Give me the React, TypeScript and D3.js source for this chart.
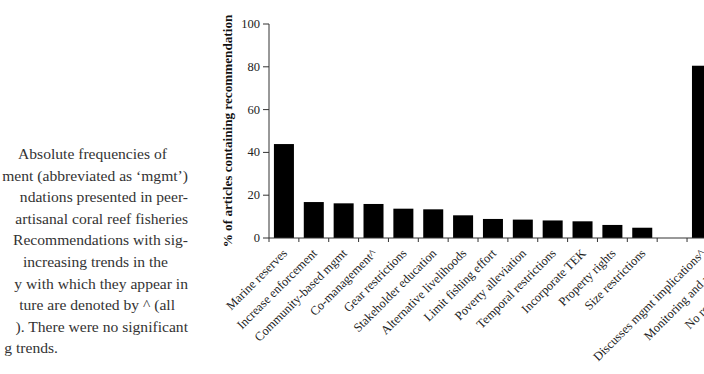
import React from 'react';
import * as d3 from 'd3';

// recommendation categories ("" = empty gap column in the original figure)
const categories = [
  'Marine reserves',
  'Increase enforcement',
  'Community-based mgmt',
  'Co-management^',
  'Gear restrictions',
  'Stakeholder education',
  'Alternative livelihoods',
  'Limit fishing effort',
  'Poverty alleviation',
  'Temporal restrictions',
  'Incorporate TEK',
  'Property rights',
  'Size restrictions',
  '',
  'Discusses mgmt implications^',
  'Monitoring and research',
  'No recommendations',
];

// % of articles containing recommendation
const values: (number | null)[] = [
  43.9, 16.8, 16.2, 15.9, 13.7, 13.4, 10.6, 8.9, 8.6, 8.2, 7.8, 6.1, 4.8,
  null, 80.5, 30, 6,
];

const yTicks = [0, 20, 40, 60, 80, 100];

// caption text (cropped at the left edge in the reference)
const captionLines = [
  'Absolute frequencies of',
  'ment (abbreviated as \u2018mgmt\u2019)',
  'ndations presented in peer-',
  'artisanal coral reef fisheries',
  'Recommendations with sig-',
  'increasing trends in the',
  'y with which they appear in',
  'ture are denoted by ^ (all',
  '). There were no significant',
  'g trends.',
];
const captionEnds = [167, 188, 188, 188, 188, 168, 188, 175, 188, 58];

const W = 704;
const H = 374;
const serif = '"Liberation Serif", "Times New Roman", serif';

export default function App() {
  const left = 269;
  const step = 29.86;
  const top = 24;
  const bottom = 238;

  const x = d3
    .scaleBand<string>()
    .domain(categories.map((c, i) => `${i}`))
    .range([left, left + step * categories.length])
    .paddingInner(0.33)
    .paddingOuter(0.165);

  const y = d3.scaleLinear().domain([0, 100]).range([bottom, top]);

  const bandStart = (i: number) => x(`${i}`)! - (x.step() * x.paddingInner()) / 2;
  const boundaries = d3.range(categories.length + 1).map((i) =>
    i < categories.length ? bandStart(i) : bandStart(i - 1) + x.step()
  );

  return (
    <svg
      width={W}
      height={H}
      style={{ position: 'absolute', left: 0, top: 0, background: '#fff' }}
    >
      {/* caption */}
      <g fontFamily={serif} fontSize={15.6} fill="#333" textAnchor="end">
        {captionLines.map((line, i) => (
          <text key={i} x={captionEnds[i]} y={159 + i * 21.6}>
            {line}
          </text>
        ))}
      </g>

      {/* bars */}
      {values.map((v, i) =>
        v == null ? null : (
          <rect
            key={i}
            x={x(`${i}`)}
            y={y(v)}
            width={x.bandwidth()}
            height={bottom - y(v)}
            fill="#000"
          />
        )
      )}

      {/* y axis */}
      <g stroke="#333" strokeWidth={1}>
        <line x1={left} x2={left} y1={top} y2={bottom} />
        {yTicks.map((t) => (
          <line key={t} x1={left - 6} x2={left} y1={y(t)} y2={y(t)} />
        ))}
      </g>
      <g fontFamily={serif} fontSize={12.5} fill="#222" textAnchor="end">
        {yTicks.map((t) => (
          <text key={t} x={left - 9} y={y(t) + 4}>
            {t}
          </text>
        ))}
      </g>
      <text
        transform={`translate(232, 131) rotate(-90)`}
        textAnchor="middle"
        fontFamily={serif}
        fontSize={13.2}
        fontWeight="bold"
        fill="#111"
      >
        % of articles containing recommendation
      </text>

      {/* x axis */}
      <g stroke="#333" strokeWidth={1}>
        <line x1={left} x2={boundaries[boundaries.length - 1]} y1={bottom} y2={bottom} />
        {boundaries.map((b, i) => (
          <line key={i} x1={b} x2={b} y1={bottom} y2={bottom + 4} />
        ))}
      </g>
      <g fontFamily={serif} fontSize={12.5} fill="#222" textAnchor="end">
        {categories.map((c, i) => (
          <text
            key={i}
            transform={`translate(${x(`${i}`)! + x.bandwidth() / 2 + 4}, ${bottom + 16}) rotate(-45)`}
          >
            {c}
          </text>
        ))}
      </g>
    </svg>
  );
}
